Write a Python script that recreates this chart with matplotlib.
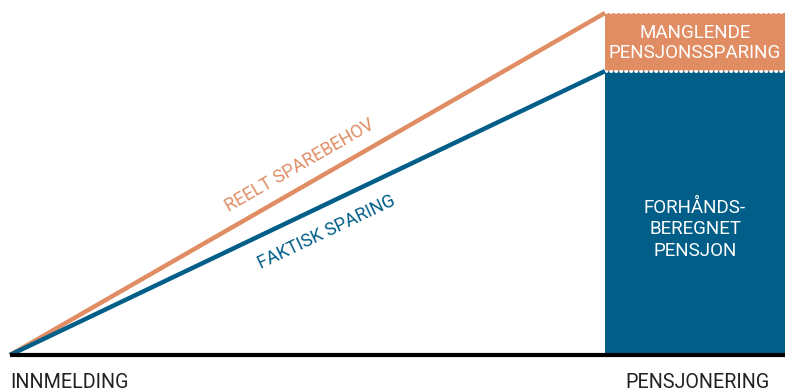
import matplotlib
matplotlib.use("Agg")
import matplotlib.pyplot as plt
import numpy as np

# data
x_points = [0, 1]
reelt_sparebehov = [0, 100]
faktisk_sparing = [0, 83]
x_labels = ["INNMELDING", "PENSJONERING"]
line_labels = ["REELT SPAREBEHOV", "FAKTISK SPARING"]
bar_labels = ["MANGLENDE\nPENSJONSSPARING", "FORHÅNDS-\nBEREGNET\nPENSJON"]

ORANGE = "#E08D64"
BLUE = "#005E89"
FONT = "Roboto"

W, H = 785, 391
fig = plt.figure(figsize=(W / 100, H / 100), dpi=100)
ax = fig.add_axes([0, 0, 1, 1])
ax.set_axis_off()

# pixel mapping
px_x0, px_x1 = 10, 605
px_y0, px_y100 = 355, 13
sx = (px_x1 - px_x0)
sy = (px_y0 - px_y100) / 100.0
ax.set_xlim(-px_x0 / sx, (W - px_x0) / sx)
ax.set_ylim(-(H - px_y0) / sy, px_y0 / sy)
xr = ax.get_xlim()[1]

inv = ax.transData.inverted()
def pix(px, py):
    return inv.transform((px, H - py))

# bar
top = reelt_sparebehov[-1]
mid = faktisk_sparing[-1]
ax.fill_between([1, xr], 0, mid, color=BLUE, lw=0, zorder=2)
ax.fill_between([1, xr], mid, top, color=ORANGE, lw=0, zorder=2)
for yy in (top + 0.2, mid):
    ax.plot([1, xr], [yy] * 2, color="white", lw=2.0,
            linestyle=(0, (0.5, 1.3)), dash_capstyle="round", zorder=3)

# lines
ax.plot(x_points, reelt_sparebehov, color=ORANGE, lw=3.2, solid_capstyle="butt", zorder=4)
ax.plot(x_points, faktisk_sparing, color=BLUE, lw=3.2, solid_capstyle="butt", zorder=4)

# baseline
ax.plot([0, xr], [0, 0], color="black", lw=3, zorder=5, solid_capstyle="butt")

# angles in display space
def disp_angle(y1):
    p0 = ax.transData.transform((0, 0))
    p1 = ax.transData.transform((1, y1))
    return np.degrees(np.arctan2(p1[1] - p0[1], p1[0] - p0[0]))

a1 = disp_angle(reelt_sparebehov[-1])
a2 = disp_angle(faktisk_sparing[-1])

tx, ty = pix(300, 166)
ax.text(tx, ty, line_labels[0], color=ORANGE, fontsize=13, family=FONT,
        rotation=a1, ha="center", va="center", rotation_mode="anchor")
tx, ty = pix(327, 232)
ax.text(tx, ty, line_labels[1], color=BLUE, fontsize=13, family=FONT,
        rotation=a2, ha="center", va="center", rotation_mode="anchor")

# bar labels
bx = (1 + xr) / 2
_, by1 = pix(695, 43)
ax.text(bx, by1, bar_labels[0], color="white", fontsize=13.5, family=FONT,
        ha="center", va="center", linespacing=1.15, zorder=6)
_, by2 = pix(695, 229)
ax.text(bx, by2, bar_labels[1], color="white", fontsize=13.5, family=FONT,
        ha="center", va="center", linespacing=1.25, zorder=6)

# x labels
lx, ly = pix(10, 382)
ax.text(lx, ly, x_labels[0], color="#222222", fontsize=14.2, family=FONT,
        ha="left", va="center")
rx, ry = pix(698, 382)
ax.text(rx, ry, x_labels[1], color="#222222", fontsize=14.2, family=FONT,
        ha="center", va="center")

fig.savefig("out.png", dpi=100)
